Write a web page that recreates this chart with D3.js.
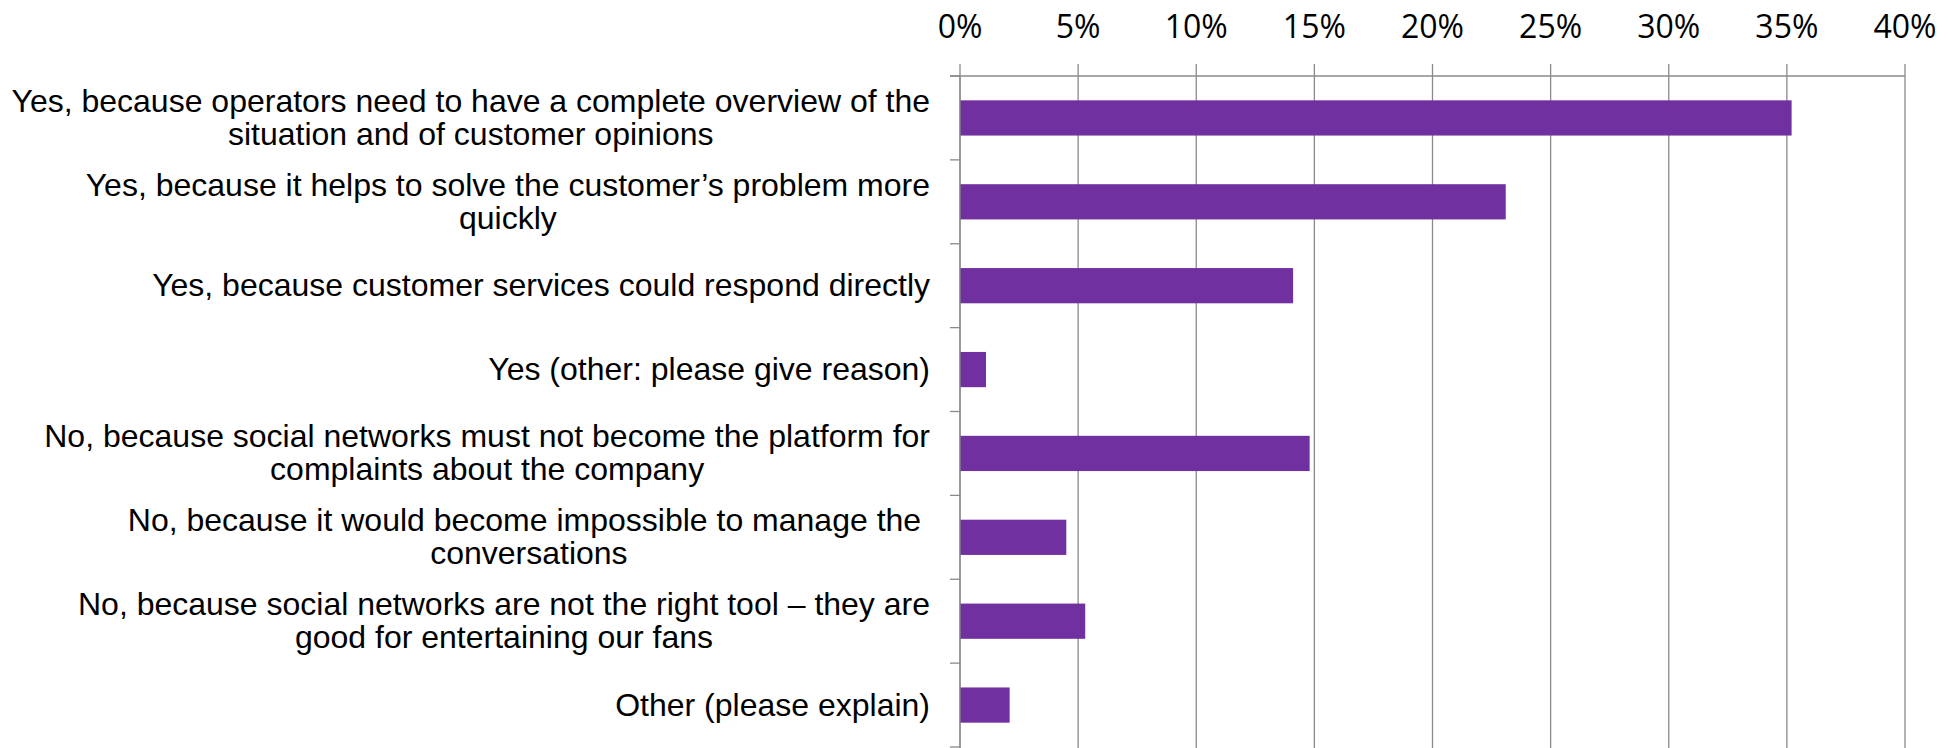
<!DOCTYPE html>
<html>
<head>
<meta charset="utf-8">
<script src="https://cdn.jsdelivr.net/npm/d3@7"></script>
<style>
  html, body { margin: 0; padding: 0; background: #fff; }
  svg { display: block; }
  .cat-label { font-family: "Liberation Sans", Arial, sans-serif; font-size: 32px; fill: #000; white-space: pre; }
  .tick-label { font-family: "Open Sans", "Noto Sans", sans-serif; font-size: 32px; fill: #000; }
</style>
</head>
<body>
<svg id="chart" width="1958" height="748"></svg>
<script>
// Survey answers, each split into the lines it is printed on
const labelLines = [
  ["Yes, because operators need to have a complete overview of the", "situation and of customer opinions"],
  ["Yes, because it helps to solve the customer’s problem more", "quickly"],
  ["Yes, because customer services could respond directly"],
  ["Yes (other: please give reason)"],
  ["No, because social networks must not become the platform for", "complaints about the company"],
  ["No, because it would become impossible to manage the ", "conversations"],
  ["No, because social networks are not the right tool – they are", "good for entertaining our fans"],
  ["Other (please explain)"]
];
const categories = labelLines.map(l => l.map(s => s.trim()).join(" "));

// Share of respondents per answer, in percent
const shares = [35.2, 23.1, 14.1, 1.1, 14.8, 4.5, 5.3, 2.1];

// Percentage axis ticks
const tickValues = [0, 5, 10, 15, 20, 25, 30, 35, 40];
const tickLabels = ["0%", "5%", "10%", "15%", "20%", "25%", "30%", "35%", "40%"];

const W = 1958, H = 748;
const plot = { left: 960, right: 1905, top: 76, bottom: 747 };
const gridColor = "#8a8a8a";
const barColor = "#7030A0";

const svg = d3.select("#chart");

const x = d3.scaleLinear().domain([0, 40]).range([plot.left, plot.right]);
const y = d3.scaleBand()
  .domain(categories)
  .range([plot.top, plot.bottom])
  .paddingInner(0.58)
  .paddingOuter(0.29);
const step = y.step();

// Vertical gridlines, running from the tick stubs above the axis to the bottom edge
svg.append("g")
  .selectAll("line")
  .data(tickValues)
  .join("line")
  .attr("x1", d => x(d)).attr("x2", d => x(d))
  .attr("y1", plot.top - 12).attr("y2", H)
  .attr("stroke", gridColor)
  .attr("stroke-width", 1.3);

// Top axis line (starts at the first category tick)
svg.append("line")
  .attr("x1", plot.left - 10).attr("x2", x(40))
  .attr("y1", plot.top).attr("y2", plot.top)
  .attr("stroke", gridColor).attr("stroke-width", 1.3);

// Category separators on the value axis
svg.append("g")
  .selectAll("line")
  .data(d3.range(categories.length + 1))
  .join("line")
  .attr("x1", plot.left - 10).attr("x2", plot.left)
  .attr("y1", i => plot.top + i * step).attr("y2", i => plot.top + i * step)
  .attr("stroke", gridColor).attr("stroke-width", 1.3);

// Percentage labels above the chart
svg.append("g")
  .selectAll("text")
  .data(tickValues)
  .join("text")
  .attr("class", "tick-label")
  .attr("x", d => x(d))
  .attr("y", 38)
  .attr("text-anchor", "middle")
  .text((d, i) => tickLabels[i]);

// Bars
svg.append("g")
  .selectAll("rect")
  .data(shares)
  .join("rect")
  .attr("x", x(0))
  .attr("y", (d, i) => y(categories[i]))
  .attr("width", d => x(d) - x(0))
  .attr("height", y.bandwidth())
  .attr("fill", barColor);

// Category labels: block right-aligned to the axis, lines centred within the block
const labelRight = 930;
const lineH = 33;
const labelG = svg.append("g");
labelLines.forEach((lines, i) => {
  const cy = y(categories[i]) + y.bandwidth() / 2;
  const texts = lines.map((s, j) => labelG.append("text")
    .attr("class", "cat-label")
    .attr("y", cy + 10.5 + (j - (lines.length - 1) / 2) * lineH)
    .text(s));
  const widths = texts.map(t => t.node().getComputedTextLength());
  const blockW = d3.max(widths);
  const cx = labelRight - blockW / 2;
  texts.forEach(t => t.attr("x", cx).attr("text-anchor", "middle"));
});

// Value axis line
svg.append("line")
  .attr("x1", plot.left).attr("x2", plot.left)
  .attr("y1", plot.top).attr("y2", H)
  .attr("stroke", gridColor).attr("stroke-width", 1.3);
</script>
</body>
</html>
